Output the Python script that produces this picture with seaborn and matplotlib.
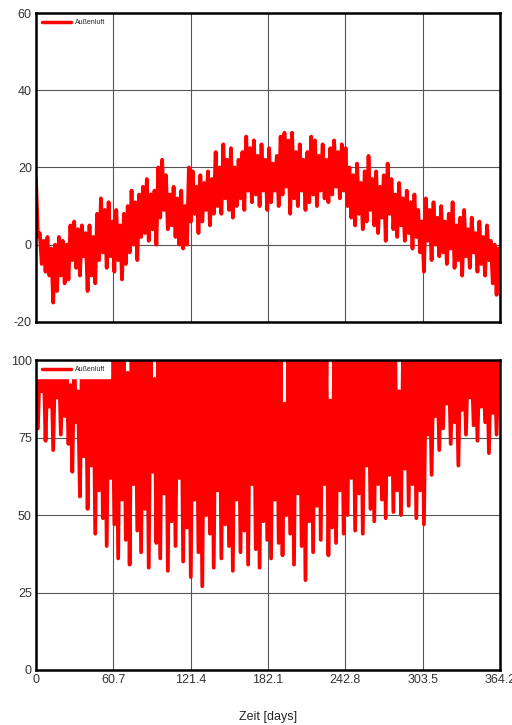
import numpy as np
import pandas as pd
import matplotlib
matplotlib.use("Agg")
import matplotlib.pyplot as plt
import seaborn as sns

# daily envelope, one pair every 3 days
tempHigh = [17, 3, 1, 2, -1, 0, 2, 1, 0, 5, 6, 4, 5, 3, 5, 2, 8, 12, 9, 11,
            6, 9, 5, 8, 10, 14, 11, 13, 15, 17, 13, 14, 20, 22, 18, 13, 15, 12, 14, 10,
            20, 19, 15, 18, 16, 19, 17, 24, 20, 26, 22, 25, 20, 22, 24, 28, 25, 27, 23, 26,
            22, 25, 21, 23, 28, 29, 27, 29, 24, 26, 22, 24, 28, 27, 23, 26, 22, 25, 27, 24,
            26, 25, 20, 18, 21, 16, 19, 23, 17, 19, 15, 18, 21, 17, 13, 16, 12, 14, 11, 13,
            9, 6, 12, 9, 11, 7, 10, 6, 8, 11, 5, 7, 9, 4, 7, 3, 6, 2, 5, 1,
            0, -1]
tempLow = [2, -5, -7, -8, -15, -12, -8, -10, -9, -4, -6, -8, -3, -12, -8, -10, -4, -2, -6, -3,
           -7, -4, -9, -5, -2, 0, -4, 2, 3, 1, 4, 0, 7, 9, 4, 5, 2, 0, -1, 0,
           6, 8, 3, 6, 9, 5, 8, 10, 8, 12, 9, 7, 10, 12, 9, 14, 11, 13, 10, 14,
           9, 11, 14, 10, 13, 15, 8, 12, 10, 14, 9, 11, 13, 10, 14, 12, 11, 13, 15, 12,
           14, 10, 7, 5, 8, 4, 6, 9, 5, 3, 7, 1, 8, 4, 2, 5, 1, 3, -1, 2,
           -2, -7, 1, -4, 0, -3, -2, -5, -1, -6, -4, -8, -3, -6, -2, -7, -5, -8, -4, -10,
           -13, -6]

humHigh = [100, 100, 100, 97, 100, 100, 100, 100, 100, 92, 100, 90, 100, 100, 95, 100, 100, 100, 100, 100,
           100, 100, 100, 100, 96, 100, 100, 100, 100, 100, 100, 94, 100, 100, 100, 100, 100, 100, 100, 100,
           100, 100, 100, 100, 100, 100, 100, 100, 100, 100, 100, 100, 100, 100, 100, 100, 100, 100, 100, 100,
           100, 100, 100, 100, 100, 86, 100, 100, 100, 100, 100, 100, 100, 100, 100, 100, 100, 87, 100, 100,
           100, 100, 100, 100, 100, 100, 100, 100, 100, 100, 100, 100, 100, 100, 100, 90, 100, 100, 100, 100,
           100, 100, 100, 100, 100, 100, 100, 100, 100, 100, 100, 100, 100, 100, 100, 100, 100, 100, 100, 100,
           100, 100]
humLow = [78, 90, 74, 85, 71, 88, 76, 82, 73, 64, 80, 56, 69, 52, 66, 44, 58, 49, 40, 62,
          47, 36, 55, 42, 34, 60, 45, 38, 52, 33, 64, 41, 36, 57, 32, 48, 40, 62, 35, 46,
          30, 55, 38, 27, 50, 44, 33, 58, 36, 47, 40, 32, 55, 38, 45, 34, 60, 39, 33, 48,
          42, 36, 55, 41, 37, 50, 44, 34, 57, 40, 29, 48, 38, 53, 42, 60, 37, 46, 41, 58,
          44, 50, 62, 45, 57, 44, 66, 52, 48, 60, 55, 49, 63, 51, 58, 50, 65, 53, 60, 49,
          58, 47, 76, 63, 82, 71, 78, 86, 73, 80, 66, 84, 76, 88, 79, 74, 85, 80, 70, 83,
          76, 88]

xTicks = [0, 60.7, 121.4, 182.1, 242.8, 303.5, 364.2]
xTickLabels = ["0", "60.7", "121.4", "182.1", "242.8", "303.5", "364.2"]
tempTicks = [-20, 0, 20, 40, 60]
humTicks = [0, 25, 50, 75, 100]
legendLabel = "Außenluft"


def zigzag(high, low, step=3.0):
    # alternate daily high and low to get the dense band look
    rows = []
    for i, (h, l) in enumerate(zip(high, low)):
        rows.append((i * step, h))
        rows.append((i * step + step / 2, l))
    return pd.DataFrame(rows, columns=["day", "value"])


tempData = zigzag(tempHigh, tempLow)
humData = zigzag(humHigh, humLow)

sns.set_style("white")
plt.rcParams["font.family"] = ["Liberation Sans", "DejaVu Sans"]
plt.rcParams["axes.unicode_minus"] = False

fig = plt.figure(figsize=(5.12, 7.25), dpi=100)
axTop = fig.add_axes([0.0703, 0.556, 0.9063, 0.426])
axBot = fig.add_axes([0.0703, 0.076, 0.9063, 0.427])

panels = [
    (axTop, tempData, (-20, 60), tempTicks),
    (axBot, humData, (0, 100), humTicks),
]

for ax, data, ylim, yticks in panels:
    sns.lineplot(data=data, x="day", y="value", ax=ax, color="#ff0000",
                 linewidth=2.7, estimator=None, sort=False, label=legendLabel)
    ax.set_xlim(0, 364.2)
    ax.set_ylim(*ylim)
    ax.set_xticks(xTicks)
    ax.set_yticks(yticks)
    ax.grid(True, color="#555555", linewidth=0.8)
    ax.set_axisbelow(True)
    ax.tick_params(length=0, labelsize=9, pad=3, colors="#333333")
    for spine in ax.spines.values():
        spine.set_color("black")
        spine.set_linewidth(1.8)
        spine.set_zorder(6)
    ax.set_ylabel("")
    ax.set_xlabel("")
    leg = ax.legend(loc="upper left", fontsize=5, frameon=True, handlelength=4.2,
                    handletextpad=0.6, borderpad=0.7, borderaxespad=0.15, fancybox=False)
    leg.get_frame().set_facecolor("white")
    leg.get_frame().set_edgecolor("white")
    leg.get_frame().set_alpha(1)
    for line in leg.get_lines():
        line.set_linewidth(2.5)

axTop.set_xticklabels([])
axBot.set_xticklabels(xTickLabels)
axBot.set_xlabel("Zeit [days]", fontsize=9, labelpad=18)

fig.savefig("out.png", dpi=100, facecolor="white")
